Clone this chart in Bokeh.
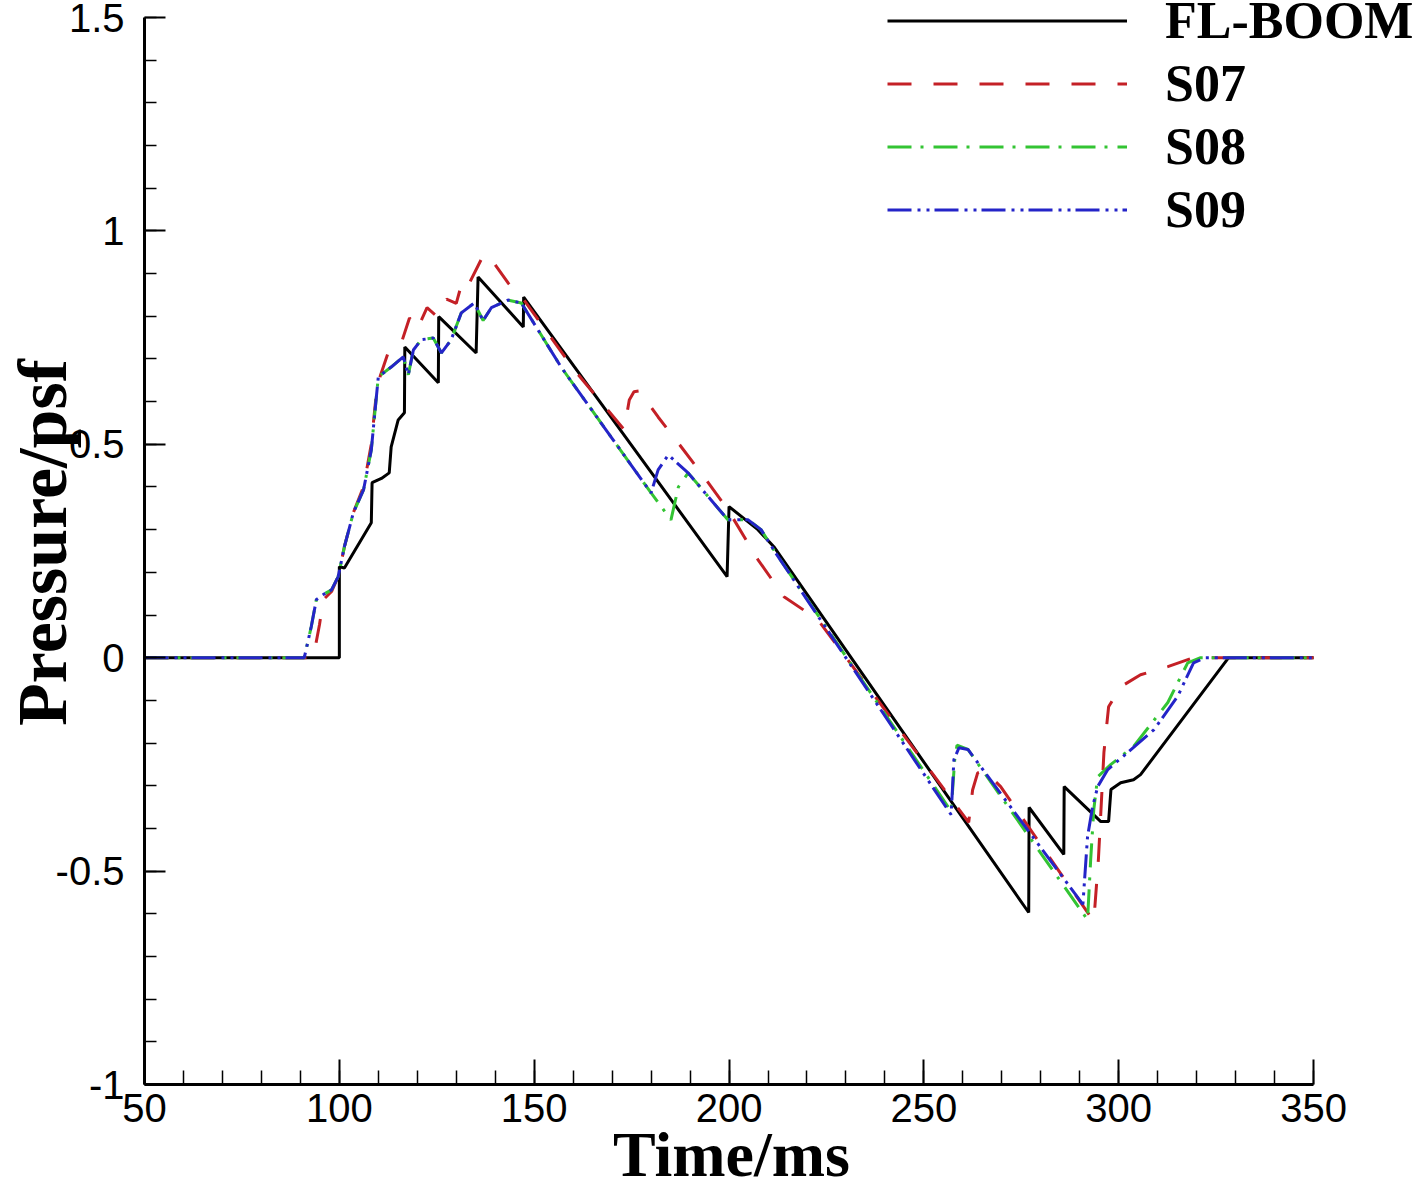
from bokeh.plotting import figure
from bokeh.models import Range1d, FixedTicker, Legend, LegendItem
from bokeh.embed import file_html
from bokeh.resources import INLINE

# ---------------- data ----------------
x_ticks = [50, 100, 150, 200, 250, 300, 350]
x_labels = ["50", "100", "150", "200", "250", "300", "350"]
y_ticks = [-1, -0.5, 0, 0.5, 1, 1.5]
y_labels = ["-1", "-0.5", "0", "0.5", "1", "1.5"]

fl_t = [50, 100, 100, 101.3, 108.2, 108.4, 110.8, 112.8, 113.3, 115.1, 116.7, 116.8,
        125.4, 125.5, 135.1, 135.6, 147.2, 147.3, 199.5, 200, 207.4, 211.5, 256.2,
        276.9, 277.0, 285.9, 286.0, 295.4, 297.4, 298.0, 300.5, 303.8, 305.6, 328.2, 350]
fl_p = [0, 0, 0.213, 0.21, 0.316, 0.41, 0.42, 0.433, 0.494, 0.557, 0.574, 0.728,
        0.644, 0.799, 0.714, 0.892, 0.775, 0.845, 0.19, 0.354, 0.30, 0.26, -0.326,
        -0.597, -0.351, -0.461, -0.302, -0.384, -0.384, -0.309, -0.293, -0.286, -0.274, 0, 0]

s07_t = [50, 93.3, 94.9, 95.9, 98.0, 99.7, 101.3, 103.6, 106.2, 108.2, 109.5, 110.5,
         112.6, 116.0, 118.0, 120.0, 122.5, 125.0, 127.5, 130.0, 131.8, 133.5, 137.0,
         138.5, 143.3, 147.4, 160.3, 173.1, 174.4, 175.6, 177.0, 181.8, 186.9, 192.8,
         199.7, 207.4, 214.1, 222.8, 261.5, 262.5, 263.8, 265.5, 269.7, 293.6, 294.8,
         296.2, 297.4, 300.5, 305.6, 312.6, 319.2, 350]
s07_p = [0, 0, 0.077, 0.136, 0.155, 0.19, 0.26, 0.34, 0.40, 0.50, 0.62, 0.66,
         0.717, 0.74, 0.796, 0.77, 0.82, 0.80, 0.84, 0.83, 0.89, 0.88, 0.944,
         0.94, 0.878, 0.838, 0.674, 0.534, 0.604, 0.623, 0.625, 0.564, 0.504, 0.433,
         0.347, 0.23, 0.143, 0.089, -0.386, -0.31, -0.27, -0.265, -0.302, -0.618, -0.47,
         -0.222, -0.115, -0.068, -0.04, -0.021, 0, 0]

s08_t = [50, 91.0, 92.8, 94.1, 95.9, 98.0, 99.7, 101.3, 103.6, 106.2, 108.2, 109.5,
         110.0, 113.3, 116.4, 117.7, 119.0, 121.0, 124.1, 126.2, 128.7, 131.3, 134.6,
         136.9, 139.0, 143.3, 146.7, 156.9, 180.0, 185.1, 187.0, 189.5, 199.7, 204.9,
         208.2, 212.0, 257.0, 257.9, 258.5, 261.3, 292.0, 292.8, 293.6, 294.6, 298.0,
         303.8, 312.6, 317.7, 321.0, 350]
s08_p = [0, 0, 0.073, 0.136, 0.148, 0.159, 0.19, 0.26, 0.34, 0.393, 0.487, 0.611,
         0.658, 0.681, 0.705, 0.663, 0.721, 0.745, 0.749, 0.714, 0.745, 0.808, 0.831,
         0.79, 0.82, 0.838, 0.831, 0.681, 0.386, 0.323, 0.40, 0.433, 0.323, 0.323,
         0.30, 0.245, -0.36, -0.24, -0.205, -0.215, -0.614, -0.473, -0.356, -0.279, -0.25,
         -0.208, -0.105, -0.012, 0, 0]

s09_t = [50, 91.0, 92.8, 94.1, 95.9, 98.0, 99.7, 101.3, 103.6, 106.2, 108.2, 109.5,
         110.0, 113.3, 116.4, 117.7, 119.0, 121.0, 124.1, 126.2, 128.7, 131.3, 134.6,
         136.9, 139.0, 143.3, 146.7, 156.9, 180.0, 181.8, 184.4, 189.5, 199.7, 204.9,
         208.2, 212.0, 257.0, 257.7, 259.0, 261.3, 290.8, 292.0, 293.3, 294.6, 297.2,
         302.3, 309.0, 315.1, 319.2, 322.3, 350]
s09_p = [0, 0, 0.073, 0.136, 0.148, 0.159, 0.19, 0.26, 0.34, 0.393, 0.487, 0.611,
         0.658, 0.681, 0.705, 0.663, 0.721, 0.745, 0.749, 0.714, 0.745, 0.808, 0.831,
         0.79, 0.82, 0.838, 0.831, 0.681, 0.386, 0.44, 0.475, 0.433, 0.323, 0.323,
         0.30, 0.245, -0.368, -0.239, -0.211, -0.215, -0.578, -0.419, -0.349, -0.302, -0.262,
         -0.222, -0.169, -0.091, -0.012, 0, 0]

series_names = ["FL-BOOM", "S07", "S08", "S09"]
x_title = "Time/ms"
y_title = "Pressure/psf"

# ---------------- layout (pixels) ----------------
W, H = 1414, 1192
FRAME_L, FRAME_B = 143, 1084          # where the axes sit on the canvas
AX_R, AX_T = 1313, 17                 # where x=350 and y=1.5 fall
px_per_ms = (AX_R - FRAME_L) / 300.0
px_per_unit = (FRAME_B - AX_T) / 2.5
x_end = 350 + (W - AX_R) / px_per_ms  # frame runs to the canvas edge so the legend fits
y_end = 1.5 + AX_T / px_per_unit

p = figure(width=W, height=H,
           x_range=Range1d(50, x_end), y_range=Range1d(-1, y_end),
           output_backend="svg", toolbar_location=None,
           min_border_left=FRAME_L, min_border_right=0,
           min_border_top=0, min_border_bottom=H - FRAME_B)
p.outline_line_color = None
p.xgrid.visible = False
p.ygrid.visible = False
p.background_fill_color = "white"
p.border_fill_color = "white"

r0 = p.line(fl_t, fl_p, line_color="black", line_width=3)
r1 = p.line(s07_t, s07_p, line_color="#c42026", line_width=3, line_dash="24 22")
r2 = p.line(s08_t, s08_p, line_color="#33c433", line_width=3, line_dash="24 9 3 10")
r3 = p.line(s09_t, s09_p, line_color="#2424c8", line_width=3, line_dash="24 6 3 6 3 5")

# axes
for ax in (p.xaxis[0], p.yaxis[0]):
    ax.axis_line_width = 3
    ax.axis_line_color = "black"
    ax.major_tick_out = 0
    ax.minor_tick_out = 0
    ax.major_tick_line_width = 2
    ax.minor_tick_line_width = 1.5
    ax.major_label_text_font = "Liberation Sans"
    ax.major_label_text_font_size = "40px"
    ax.major_label_text_color = "black"
    ax.axis_label_text_font = "Liberation Serif"
    ax.axis_label_text_font_style = "bold"
    ax.axis_label_text_color = "black"

p.xaxis.bounds = (50, 350)
p.xaxis.ticker = FixedTicker(ticks=x_ticks, minor_ticks=list(range(50, 351, 10)))
p.xaxis.major_label_overrides = {t: l for t, l in zip(x_ticks, x_labels)}
p.xaxis.major_tick_in = 25
p.xaxis.minor_tick_in = 14
p.xaxis.major_label_standoff = 9
# the frame is wider than the axis; trailing no-break spaces shift the centred title left
p.xaxis.axis_label = x_title + "\u00a0" * 6
p.xaxis.axis_label_text_font_size = "64px"
p.xaxis.axis_label_standoff = -6

p.yaxis.bounds = (-1, 1.5)
p.yaxis.ticker = FixedTicker(ticks=y_ticks,
                             minor_ticks=[round(-1 + 0.1 * i, 2) for i in range(26)])
p.yaxis.major_label_overrides = {t: l for t, l in zip(y_ticks, y_labels)}
p.yaxis.major_tick_in = 21
p.yaxis.minor_tick_in = 12
p.yaxis.major_label_standoff = 20
p.yaxis.axis_label = y_title
p.yaxis.axis_label_text_font_size = "70px"
p.yaxis.axis_label_standoff = -28

legend = Legend(items=[LegendItem(label=n, renderers=[r]) for n, r in
                       zip(series_names, [r0, r1, r2, r3])],
                location=(886 - FRAME_L, FRAME_B - (20 - 31.5 + 4 * 63)),
                glyph_width=240, glyph_height=63, label_height=63,
                label_standoff=38, spacing=0, padding=0, margin=0,
                border_line_color=None, background_fill_alpha=0,
                label_text_font="Liberation Serif", label_text_font_style="bold",
                label_text_font_size="52px", label_text_color="black")
p.add_layout(legend)

open("out.html", "w").write(file_html(p, INLINE))
